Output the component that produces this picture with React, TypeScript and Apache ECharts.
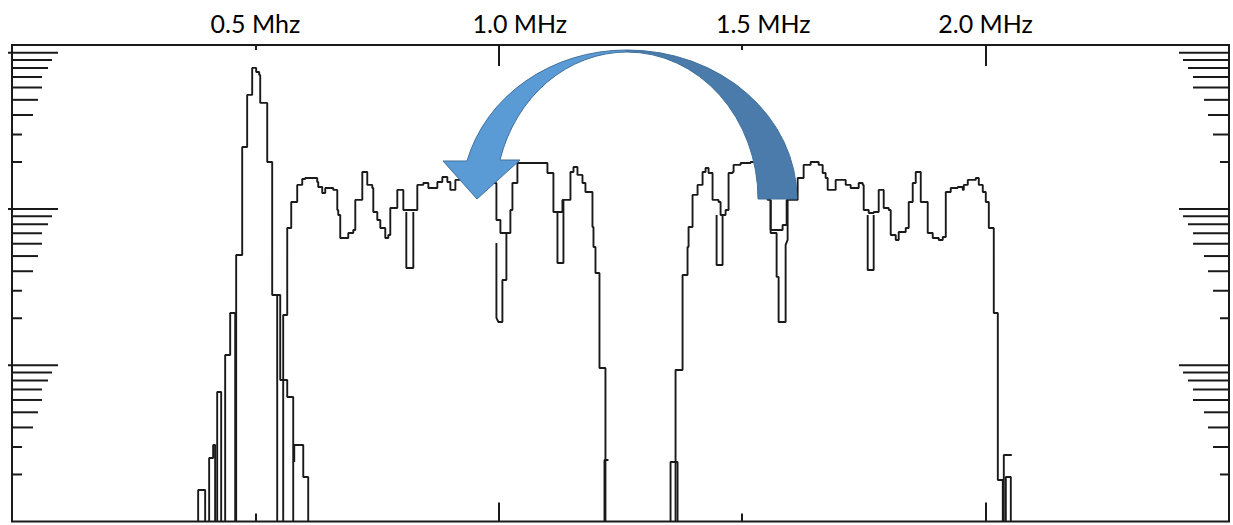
import React, { useEffect, useRef } from 'react';
import * as echarts from 'echarts';

// ---------- axis ranges ----------
const FREQ_MIN = 0; // MHz
const FREQ_MAX = 2.5; // MHz
const LEVEL_MIN = 0; // dB (log amplitude, 20 dB per decade)
const LEVEL_MAX = 61;

// ---------- top tick labels ----------
const TOP_LABEL_VALUES = [0.5, 1.0, 1.5, 2.0];
const TOP_LABELS = ['0.5 Mhz', '1.0 MHz', '1.5 MHz', '2.0 MHz'];
const TOP_LABEL_SHIFTED = [false, true, true, false];

// ---------- log-scale tick values (dB) ----------
const DECADE_DB = [0, 20, 40];
const LOG_MINOR_DB = [6.02, 9.54, 12.04, 13.98, 15.56, 16.9, 18.06, 19.08]; // k = 2..9

// ---------- traces: [frequency MHz, level dB] ----------
const PEAK_MAIN = [
  [0.4605, 0], [0.4605, 34.12], [0.4729, 47.95], [0.4831, 54.61], [0.4934, 58.07],
  [0.5016, 57.55], [0.5078, 57.17], [0.5099, 53.59], [0.5243, 46.03], [0.5345, 29.0], [0.5448, 0],
];
const PEAK_Q = [[0.4379, 0], [0.4379, 21.32], [0.4482, 26.7], [0.4585, 0]];
const PEAK_R = [[0.4215, 0], [0.4215, 16.58], [0.4297, 0]];
const PEAK_S = [[0.405, 0], [0.405, 8.13], [0.4132, 9.8], [0.4173, 0]];
const PEAK_T = [[0.3824, 0], [0.3824, 4.03], [0.3968, 0]];
const PEAK_W1 = [[0.5345, 29.0], [0.551, 18.12], [0.5654, 15.94], [0.5777, 0]];
const PEAK_W2 = [[0.5798, 7.62], [0.5798, 9.8], [0.5983, 5.7], [0.6085, 0]];

const BAND_LOW = [
  [0.5571, 0], [0.5571, 26.44], [0.5654, 37.58], [0.5736, 40.91], [0.5859, 43.09],
  [0.5962, 43.85], [0.6024, 43.98], [0.627, 43.47], [0.6291, 42.83], [0.6373, 42.06],
  [0.6435, 42.7], [0.6599, 42.45], [0.6682, 39.88], [0.6702, 39.24], [0.6743, 36.3],
  [0.6908, 36.94], [0.7011, 37.32], [0.7052, 41.17], [0.7196, 44.75], [0.7298, 43.09],
  [0.7401, 42.7], [0.7422, 39.63], [0.7504, 38.6], [0.7566, 37.58], [0.7668, 36.3],
  [0.773, 36.68], [0.7771, 40.14], [0.7915, 42.45], [0.8039, 39.88], [0.8326, 43.09],
  [0.845, 43.34], [0.8553, 42.7], [0.8738, 43.47], [0.884, 44.11], [0.8943, 43.47],
  [0.9005, 42.45], [0.9108, 43.73], [0.9313, 43.98], [0.9622, 43.34], [0.9951, 38.6],
  [1.0033, 36.94], [1.0238, 39.88], [1.028, 43.34], [1.0382, 45.9], [1.0999, 44.62],
  [1.1122, 39.63], [1.1307, 41.17], [1.1472, 44.75], [1.1534, 45.39], [1.1616, 44.37],
  [1.1719, 43.34], [1.178, 42.19], [1.1924, 37.71], [1.1945, 35.15], [1.1986, 31.82],
  [1.2068, 19.65], [1.2191, 0],
];

const BAND_HIGH = [
  [1.3631, 0], [1.3631, 19.4], [1.3775, 31.56], [1.3877, 35.15], [1.3898, 37.71],
  [1.398, 41.81], [1.4083, 43.09], [1.4186, 44.75], [1.4247, 45.26], [1.4309, 44.62],
  [1.4391, 41.17], [1.4515, 40.91], [1.4556, 39.24], [1.4659, 39.88], [1.472, 44.62],
  [1.4803, 44.75], [1.4823, 45.65], [1.4967, 45.9], [1.5173, 46.03], [1.5378, 44.75],
  [1.5522, 41.17], [1.5584, 37.32], [1.583, 37.96], [1.5913, 41.17], [1.6139, 43.98],
  [1.6262, 45.65], [1.6406, 46.03], [1.6571, 45.65], [1.6653, 44.62], [1.6714, 43.98],
  [1.6756, 42.45], [1.692, 43.73], [1.7126, 43.09], [1.7228, 42.7], [1.7393, 43.34],
  [1.7475, 43.09], [1.7496, 39.88], [1.7599, 39.5], [1.7701, 39.63], [1.7804, 42.45],
  [1.7907, 40.14], [1.801, 39.88], [1.8051, 36.68], [1.8154, 36.04], [1.8215, 37.07],
  [1.8359, 37.58], [1.8421, 40.91], [1.8503, 43.34], [1.8565, 44.75], [1.8668, 40.91],
  [1.8811, 36.94], [1.8914, 36.3], [1.9038, 36.04], [1.912, 36.43], [1.9182, 42.19],
  [1.9284, 42.7], [1.9428, 42.83], [1.9531, 42.45], [1.9552, 43.09], [1.9634, 43.73],
  [1.9798, 43.98], [1.986, 43.09], [1.9942, 42.19], [2.0004, 40.91], [2.0066, 37.58],
  [2.0168, 26.7], [2.0251, 5.31], [2.0353, 0],
];

// second-sweep dips and small fragments (plain polylines)
const DIP_1 = [[0.81, 39.63], [0.81, 32.46], [0.8244, 32.46], [0.8244, 39.63]];
const DIP_2 = [[0.9951, 35.66], [0.9951, 26.06], [0.9992, 25.54], [1.0074, 25.54], [1.0074, 30.92], [1.0156, 30.92], [1.0156, 36.94]];
const DIP_3 = [[1.1205, 39.5], [1.1205, 33.1], [1.1328, 33.1], [1.1328, 41.17]];
const DIP_4 = [[1.4474, 39.24], [1.4474, 32.84], [1.4597, 32.84], [1.4597, 39.24]];
const DIP_5 = [[1.5584, 41.17], [1.5584, 36.94], [1.5707, 36.94], [1.5707, 31.31], [1.5748, 31.31], [1.5748, 25.54], [1.5892, 25.54], [1.5892, 35.4], [1.5933, 36.04], [1.5933, 41.17]];
const DIP_6 = [[1.7578, 39.24], [1.7578, 32.2], [1.7701, 32.2], [1.7701, 39.24]];
const FRAG_1 = [[1.3528, 0], [1.3528, 7.62], [1.3672, 7.62], [1.3672, 0]];
const FRAG_2 = [[1.2253, 7.87], [1.2171, 7.87], [1.2171, 0]];
const FRAG_3 = [[2.0538, 8.51], [2.0374, 8.51], [2.0374, 0]];
const FRAG_4 = [[2.0415, 0], [2.0415, 5.7], [2.0518, 5.7], [2.0518, 0]];

const STEP_TRACES = [PEAK_MAIN, PEAK_Q, PEAK_R, PEAK_S, PEAK_T, PEAK_W1, PEAK_W2, BAND_LOW, BAND_HIGH];
const POLY_TRACES = [DIP_1, DIP_2, DIP_3, DIP_4, DIP_5, DIP_6, FRAG_1, FRAG_2, FRAG_3, FRAG_4];

// ---------- styles ----------
const INK = '#1a1a1a';
const FONT = 'Lato, "Open Sans", sans-serif';
const LEFT_TICK_LEN = [10, 10, 21, 26, 30, 30, 36, 40, 46];
const RIGHT_TICK_LEN = [9, 16, 21, 25, 36, 36, 41, 46, 50];

// curved block arrow (annotation)
const ARROW_BACK_D = 'M 627 50 A 170 149 0 0 1 797 199 L 758 199 A 131 147 0 0 0 627 52 Z';
const ARROW_FRONT_D =
  'M 627 50 A 165 149 0 0 0 467 161 L 443 161 L 477 199 L 520 160 L 500 160 A 132 147 0 0 1 627 52 Z';

echarts.graphic.registerShape('arrowBack', echarts.graphic.extendPath(ARROW_BACK_D, {}));
echarts.graphic.registerShape('arrowFront', echarts.graphic.extendPath(ARROW_FRONT_D, {}));

function buildOption() {
  const yTickData: number[][] = [];
  DECADE_DB.forEach((d) => {
    LOG_MINOR_DB.forEach((m, i) => yTickData.push([FREQ_MIN, d + m, i]));
    yTickData.push([FREQ_MIN, d + 20, 8]);
  });

  const baseX = {
    type: 'value',
    min: FREQ_MIN,
    max: FREQ_MAX,
    axisLine: { show: false },
    splitLine: { show: false },
    axisLabel: { show: false },
  };

  const labelStyle = { fontFamily: FONT, fontSize: 25, color: '#000' };

  const series: any[] = [];
  STEP_TRACES.forEach((d) =>
    series.push({
      type: 'line', data: d, step: 'end', symbol: 'none', showSymbol: false, silent: true,
      lineStyle: { color: INK, width: 1.9 }, z: 3,
    })
  );
  POLY_TRACES.forEach((d) =>
    series.push({
      type: 'line', data: d, symbol: 'none', showSymbol: false, silent: true,
      lineStyle: { color: INK, width: 1.9 }, z: 3,
    })
  );
  series.push({
    type: 'custom',
    silent: true,
    clip: false,
    z: 5,
    data: yTickData,
    renderItem: (params: any, api: any) => {
      const v = api.value(1);
      const kind = api.value(2);
      const l = api.coord([FREQ_MIN, v]);
      const r = api.coord([FREQ_MAX, v]);
      const y = l[1];
      const out = kind === 8 ? 4 : 0;
      return {
        type: 'group',
        children: [
          { type: 'line', shape: { x1: l[0] - out, y1: y, x2: l[0] + LEFT_TICK_LEN[kind], y2: y }, style: { stroke: INK, lineWidth: 2 } },
          { type: 'line', shape: { x1: r[0] - RIGHT_TICK_LEN[kind], y1: y, x2: r[0], y2: y }, style: { stroke: INK, lineWidth: 2 } },
        ],
      };
    },
  });

  return {
    animation: false,
    backgroundColor: '#ffffff',
    grid: { left: 12, right: 4, top: 45, bottom: 3.5, show: true, borderColor: INK, borderWidth: 2, backgroundColor: 'transparent' },
    xAxis: [
      { ...baseX, position: 'bottom', interval: 0.5, axisTick: { show: true, inside: true, length: 8, lineStyle: { color: INK, width: 2 } } },
      { ...baseX, position: 'bottom', interval: 1, axisTick: { show: true, inside: true, length: 19, lineStyle: { color: INK, width: 2 } } },
      {
        ...baseX,
        position: 'top',
        interval: 0.5,
        axisTick: { show: true, inside: true, length: 5, lineStyle: { color: INK, width: 2 } },
        axisLabel: {
          show: true,
          margin: 10,
          ...labelStyle,
          formatter: (v: number) => {
            const i = TOP_LABEL_VALUES.findIndex((t) => Math.abs(t - v) < 1e-6);
            if (i < 0) return '';
            return TOP_LABEL_SHIFTED[i] ? `{s|${TOP_LABELS[i]}}` : `{n|${TOP_LABELS[i]}}`;
          },
          rich: {
            n: { ...labelStyle },
            s: { ...labelStyle, padding: [0, 0, 0, 42] },
          },
        },
      },
      { ...baseX, position: 'top', interval: 1, axisTick: { show: true, inside: true, length: 21, lineStyle: { color: INK, width: 2 } } },
    ],
    yAxis: {
      type: 'value', min: LEVEL_MIN, max: LEVEL_MAX,
      axisLine: { show: false }, axisTick: { show: false }, axisLabel: { show: false }, splitLine: { show: false },
    },
    series,
    graphic: {
      elements: [
        { type: 'arrowBack', x: 0, y: 0, z: 100, silent: true, style: { fill: '#4A7BAA', stroke: '#41719C', lineWidth: 1 } },
        { type: 'arrowFront', x: 0, y: 0, z: 101, silent: true, style: { fill: '#5B9BD5', stroke: '#41719C', lineWidth: 1 } },
      ],
    },
  };
}

export default function App() {
  const ref = useRef<HTMLDivElement>(null);
  useEffect(() => {
    document.body.style.margin = '0';
    const chart = echarts.init(ref.current as HTMLDivElement, undefined, { renderer: 'svg' });
    chart.setOption(buildOption() as any);
    return () => chart.dispose();
  }, []);
  return <div ref={ref} style={{ width: 1233, height: 525 }} />;
}
